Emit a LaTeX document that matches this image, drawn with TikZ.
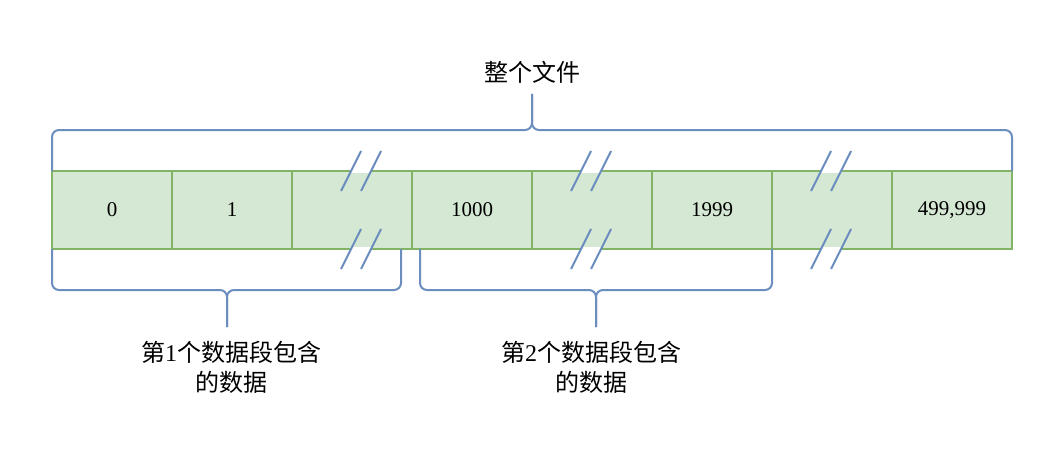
\documentclass[tikz,border=0pt]{standalone}
\usepackage{fontspec}
\setmainfont{Liberation Serif}
\newfontfamily\cjk{Noto Sans CJK SC}
\usetikzlibrary{positioning, calc}
\definecolor{zellgruen}{HTML}{D5E8D4}
\definecolor{randgruen}{HTML}{82B366}
\definecolor{klammer}{HTML}{6C8EBF}

\begin{document}
\begin{tikzpicture}[x=0.5pt, y=-0.5pt,
    cell/.style={draw=randgruen, fill=zellgruen, line width=1pt,
                 minimum width=60pt, minimum height=39pt,
                 inner sep=0pt, outer sep=0pt, font=\fontsize{10.5}{12}\selectfont},
    brace/.style={draw=klammer, line width=1pt, rounded corners=3.5pt},
    cut/.style={draw=klammer, line width=1pt},
    gap/.style={draw=white, line width=1.6pt},
    beschr/.style={align=center, font=\fontsize{12}{15}\selectfont}
  ]
  \useasboundingbox (0,0) rectangle (1063,449);

  % Zellen von links nach rechts
  \node[cell] (c1) at (112,210) {0};
  \node[cell, right=0pt of c1] (c2) {1};
  \node[cell, right=0pt of c2] (c3) {};
  \node[cell, right=0pt of c3] (c4) {1000};
  \node[cell, right=0pt of c4] (c5) {};
  \node[cell, right=0pt of c5] (c6) {1999};
  \node[cell, right=0pt of c6] (c7) {};
  \node[cell, right=0pt of c7] (c8) {499,999};

  % Unterbrechungen
  \foreach \c/\dx in {c3/9, c5/-1, c7/-1} {
    \foreach \a in {north, south} {
      \draw[gap] ($(\c.\a)+(\dx-10,0)$) -- ++(20,0);
      \draw[cut] ($(\c.\a)+(\dx-20,20)$) -- ++(20,-40);
      \draw[cut] ($(\c.\a)+(\dx,20)$) -- ++(20,-40);
    }
  }

  % Texte
  \node[beschr] (file) at (532,72) {{\cjk 整个文件}};
  \node[beschr] (seg1) at (231,367) {{\cjk 第}1{\cjk 个数据段包含}\\{\cjk 的数据}};
  \node[beschr] (seg2) at (591,367) {{\cjk 第}2{\cjk 个数据段包含}\\{\cjk 的数据}};

  % Klammern
  \coordinate (t0) at (532,130);
  \coordinate (t1) at (532,94);
  \draw[brace] (c1.north west) |- (t0) -- (t1);
  \draw[brace] (c8.north east) |- (t0) -- (t1);

  \coordinate (a0) at (227,290);
  \coordinate (a1) at (227,327);
  \coordinate (ar) at (401,249);
  \draw[brace] (c1.south west) |- (a0) -- (a1);
  \draw[brace] (ar) |- (a0) -- (a1);

  \coordinate (b0) at (596,290);
  \coordinate (b1) at (596,327);
  \coordinate (bl) at (420,249);
  \draw[brace] (bl) |- (b0) -- (b1);
  \draw[brace] (c7.south west) |- (b0) -- (b1);
\end{tikzpicture}
\end{document}
